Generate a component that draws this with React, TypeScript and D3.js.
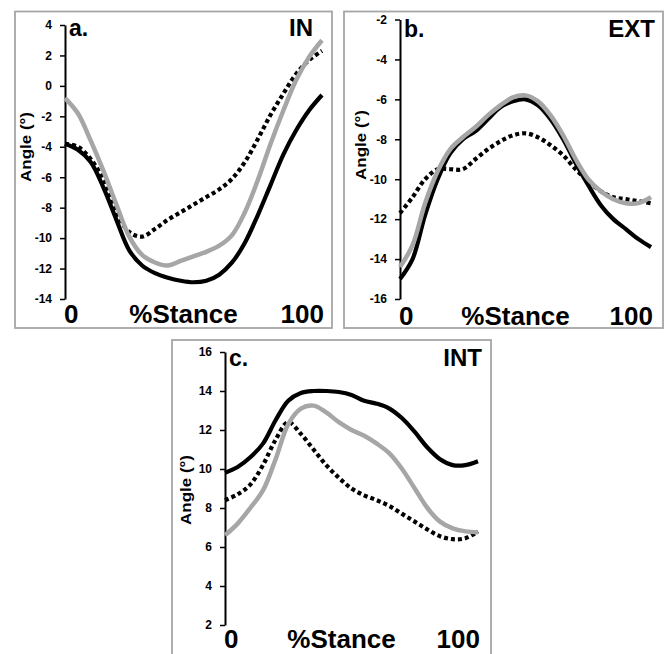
import * as d3 from 'd3';
import React, { useEffect, useRef } from 'react';

// % of stance phase sampled every 5%
const stance = [0, 5, 10, 15, 20, 25, 30, 35, 40, 45, 50, 55, 60, 65, 70, 75, 80, 85, 90, 95, 100];

// a. IN
const inBlack = [-3.8, -4.2, -5.0, -6.7, -8.8, -10.8, -11.8, -12.3, -12.6, -12.8, -12.9, -12.8, -12.4, -11.6, -10.3, -8.5, -6.5, -4.5, -2.9, -1.6, -0.6];
const inGray = [-0.8, -1.8, -3.6, -5.6, -7.8, -9.9, -11.1, -11.6, -11.8, -11.5, -11.2, -10.9, -10.5, -9.8, -8.3, -6.2, -3.8, -1.6, 0.4, 1.9, 3.0];
const inDotted = [-3.8, -4.0, -4.8, -6.2, -8.3, -9.6, -9.9, -9.4, -8.8, -8.3, -7.8, -7.3, -6.8, -6.1, -5.0, -3.5, -1.9, -0.5, 0.8, 1.7, 2.3];
const inTicks = [4, 2, 0, -2, -4, -6, -8, -10, -12, -14];

// b. EXT
const extBlack = [-15.0, -14.0, -11.8, -10.0, -8.7, -8.0, -7.6, -7.0, -6.4, -6.1, -6.0, -6.3, -7.0, -8.0, -9.2, -10.3, -11.3, -12.0, -12.5, -13.0, -13.4];
const extGray = [-14.4, -13.3, -11.2, -9.6, -8.5, -7.9, -7.4, -6.8, -6.3, -5.9, -5.8, -6.1, -6.8, -7.8, -9.0, -10.0, -10.6, -11.0, -11.2, -11.2, -10.9];
const extDotted = [-11.7, -10.9, -10.0, -9.5, -9.5, -9.5, -9.0, -8.5, -8.1, -7.8, -7.7, -7.9, -8.3, -8.8, -9.5, -10.1, -10.6, -10.9, -11.0, -11.1, -11.2];
const extTicks = [-2, -4, -6, -8, -10, -12, -14, -16];

// c. INT
const intBlack = [9.8, 10.1, 10.6, 11.3, 12.5, 13.5, 13.9, 14.0, 14.0, 13.95, 13.8, 13.5, 13.35, 13.1, 12.6, 11.9, 11.1, 10.5, 10.2, 10.2, 10.4];
const intGray = [6.6, 7.2, 8.0, 8.9, 10.5, 12.3, 13.1, 13.25, 12.9, 12.4, 12.0, 11.7, 11.3, 10.8, 10.0, 9.0, 8.0, 7.3, 6.95, 6.8, 6.75];
const intDotted = [8.4, 8.7, 9.2, 10.2, 11.5, 12.4, 11.8, 11.0, 10.2, 9.55, 9.0, 8.65, 8.4, 8.1, 7.7, 7.3, 6.9, 6.55, 6.4, 6.45, 6.8];
const intTicks = [16, 14, 12, 10, 8, 6, 4, 2];

const FONT = "'Liberation Sans', Arial, sans-serif";

const panels = [
  {
    letter: 'a.', title: 'IN', black: inBlack, gray: inGray, dotted: inDotted, ticks: inTicks,
    box: [15, 11.5, 332, 328], axisX: 65, endX: 322, yTop: 25, yBottom: 299,
    titleRight: 313, titleY: 36, bottomY: 323, labelY: 147,
  },
  {
    letter: 'b.', title: 'EXT', black: extBlack, gray: extGray, dotted: extDotted, ticks: extTicks,
    box: [344, 11.5, 663, 328], axisX: 400, endX: 651, yTop: 19.5, yBottom: 299,
    titleRight: 655, titleY: 37, bottomY: 325, labelY: 145,
  },
  {
    letter: 'c.', title: 'INT', black: intBlack, gray: intGray, dotted: intDotted, ticks: intTicks,
    box: [172, 340, 491, 680], axisX: 225, endX: 478, yTop: 352, yBottom: 625,
    titleRight: 482, titleY: 366, bottomY: 648, labelY: 490,
  },
];

const App = () => {
  const svgRef = useRef(null);

  useEffect(() => {
    const svg = d3.select(svgRef.current);
    svg.selectAll('*').remove();

    panels.forEach(p => {
      const g = svg.append('g');
      const [bx0, by0, bx1, by1] = p.box;

      g.append('rect')
        .attr('x', bx0).attr('y', by0)
        .attr('width', bx1 - bx0).attr('height', by1 - by0)
        .attr('fill', 'white')
        .attr('stroke', '#a6a6a6')
        .attr('stroke-width', 1.8);

      const ext = d3.extent(p.ticks);
      const y = d3.scaleLinear().domain(ext).range([p.yBottom, p.yTop]);
      const x = d3.scaleLinear().domain([0, 100]).range([p.axisX, p.endX]);

      const axis = g.append('g')
        .attr('transform', `translate(${p.axisX},0)`)
        .call(d3.axisLeft(y).tickValues(p.ticks).tickSize(5).tickSizeOuter(0).tickPadding(8).tickFormat(d3.format('d')));
      axis.select('.domain').attr('stroke', 'black').attr('stroke-width', 2);
      axis.selectAll('.tick line').attr('stroke', 'black').attr('stroke-width', 1.5);
      axis.selectAll('.tick text')
        .attr('font-family', FONT)
        .attr('font-size', 12)
        .attr('font-weight', 'bold')
        .attr('fill', 'black')
        .text(d => String(d).replace('\u2212', '-'));

      const line = d3.line()
        .x((d, i) => x(stance[i]))
        .y(d => y(d))
        .curve(d3.curveCatmullRom);

      g.append('path').datum(p.black)
        .attr('fill', 'none').attr('stroke', 'black').attr('stroke-width', 4.2)
        .attr('d', line);
      g.append('path').datum(p.dotted)
        .attr('fill', 'none').attr('stroke', 'black').attr('stroke-width', 4.2)
        .attr('stroke-dasharray', '4 3')
        .attr('d', line);
      g.append('path').datum(p.gray)
        .attr('fill', 'none').attr('stroke', '#a6a6a6').attr('stroke-width', 4.5)
        .attr('d', line);

      const txt = (s, tx, ty, size, anchor) => g.append('text')
        .attr('x', tx).attr('y', ty)
        .attr('font-family', FONT)
        .attr('font-weight', 'bold')
        .attr('font-size', size)
        .attr('text-anchor', anchor)
        .attr('fill', 'black')
        .text(s);

      txt(p.letter, p.axisX + 4, p.titleY, 23, 'start');
      txt(p.title, p.titleRight, p.titleY, 24, 'end');
      txt('0', p.axisX - 1, p.bottomY, 26, 'start');
      txt('%Stance', (p.axisX + p.endX) / 2 - 10, p.bottomY, 26, 'middle');
      txt('100', p.endX + 2, p.bottomY, 26, 'end');

      g.append('text')
        .attr('transform', `translate(${p.axisX - 34},${p.labelY}) rotate(-90)`)
        .attr('font-family', FONT)
        .attr('font-weight', 'bold')
        .attr('font-size', 14)
        .attr('text-anchor', 'middle')
        .attr('textLength', 70)
        .attr('lengthAdjust', 'spacingAndGlyphs')
        .attr('fill', 'black')
        .text('Angle (°)');
    });
  }, []);

  return (
    <svg
      ref={svgRef}
      width={668}
      height={654}
      style={{ position: 'absolute', left: 0, top: 0, background: 'white' }}
    />
  );
};

export default App;
